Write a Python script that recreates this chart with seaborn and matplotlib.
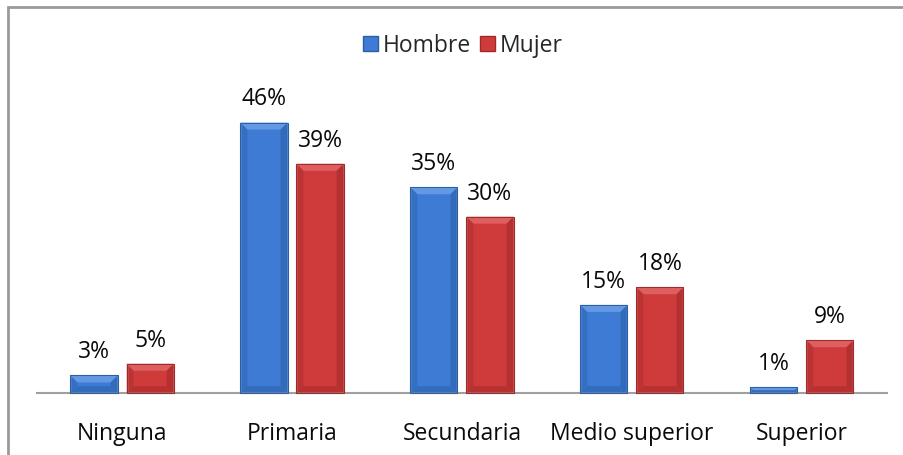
import pandas as pd
import numpy as np
import matplotlib
matplotlib.use('Agg')
import matplotlib.pyplot as plt
import seaborn as sns
from matplotlib.patches import Polygon, Patch, Rectangle


# data
niveles = ['Ninguna', 'Primaria', 'Secundaria', 'Medio superior', 'Superior']
hombre = [3, 46, 35, 15, 1]
mujer = [5, 39, 30, 18, 9]
series = ['Hombre', 'Mujer']

colores = {'Hombre': '#3d7bd4', 'Mujer': '#cf3a3a'}
claros = {'Hombre': '#6a9ce6', 'Mujer': '#e06464'}
oscuros = {'Hombre': '#2b5fa8', 'Mujer': '#a02a2a'}

df = pd.DataFrame({
    'nivel': niveles * 2,
    'sexo': ['Hombre'] * len(niveles) + ['Mujer'] * len(niveles),
    'pct': hombre + mujer,
})

sns.set_theme(style='white')
plt.rcParams['font.family'] = ['Open Sans', 'DejaVu Sans']
fs = 16.5

fig = plt.figure(figsize=(9.04, 4.55), dpi=100)
ax = fig.add_axes([0.041, 0.136, 0.94, 0.711])

sns.barplot(data=df, x='nivel', y='pct', hue='sexo', order=niveles,
            hue_order=series, palette=colores, width=0.66, gap=0.16,
            saturation=1, legend=False, ax=ax)

ax.set_ylim(0, 55)
ax.set_xlim(-0.5, len(niveles) - 0.5)
ax.set_xlabel('')
ax.set_ylabel('')
ax.set_yticks([])
for s in ['top', 'left', 'right']:
    ax.spines[s].set_visible(False)
ax.spines['bottom'].set_color('#a0a0a0')
ax.spines['bottom'].set_linewidth(1.5)
ax.tick_params(axis='x', length=0, pad=21, labelsize=fs, colors='#0a0a0a')

# value labels
for cont, nombre in zip(ax.containers, series):
    ax.bar_label(cont, labels=[f'{v:.0f}%' for v in cont.datavalues],
                 padding=8, fontsize=fs, color='#0a0a0a')

# bevel effect on each bar (from the drawn patches)
fig.canvas.draw()
for cont, nombre in zip(ax.containers, series):
    for p in cont.patches:
        bb = p.get_window_extent()
        x0, y0, x1, y1 = bb.x0, bb.y0, bb.x1, bb.y1
        b = min(7, (y1 - y0) / 2, (x1 - x0) / 2)
        top = [(x0, y1), (x1, y1), (x1 - b, y1 - b), (x0 + b, y1 - b)]
        bot = [(x0, y0), (x1, y0), (x1 - b, y0 + b), (x0 + b, y0 + b)]
        izq = [(x0, y0), (x0, y1), (x0 + b, y1 - b), (x0 + b, y0 + b)]
        der = [(x1, y0), (x1, y1), (x1 - b, y1 - b), (x1 - b, y0 + b)]
        for pts, c, a in [(top, claros[nombre], 0.9), (bot, oscuros[nombre], 0.5),
                          (izq, oscuros[nombre], 0.4), (der, oscuros[nombre], 0.55)]:
            fig.patches.append(Polygon(pts, closed=True, transform=None,
                                       facecolor=c, alpha=a, edgecolor='none',
                                       figure=fig))
        fig.patches.append(Rectangle((x0, y0), x1 - x0, y1 - y0, transform=None,
                                     facecolor='none', edgecolor=oscuros[nombre],
                                     linewidth=0.8, figure=fig))

# legend
handles = [Patch(facecolor=colores[s], edgecolor=oscuros[s], label=s) for s in series]
fig.legend(handles=handles, loc='center', bbox_to_anchor=(0.512, 0.9), ncol=2,
           frameon=False, fontsize=fs, handlelength=0.65, handleheight=0.65,
           handletextpad=0.2, columnspacing=0.4)

# chart border (top and left visible)
fig.patches.append(Rectangle((8 / 904, -0.05), 1.2, 1 - 7 / 455 + 0.05,
                             transform=fig.transFigure, facecolor='none',
                             edgecolor='#9a9a9a', linewidth=2, figure=fig))

fig.savefig('out.png', dpi=100)
